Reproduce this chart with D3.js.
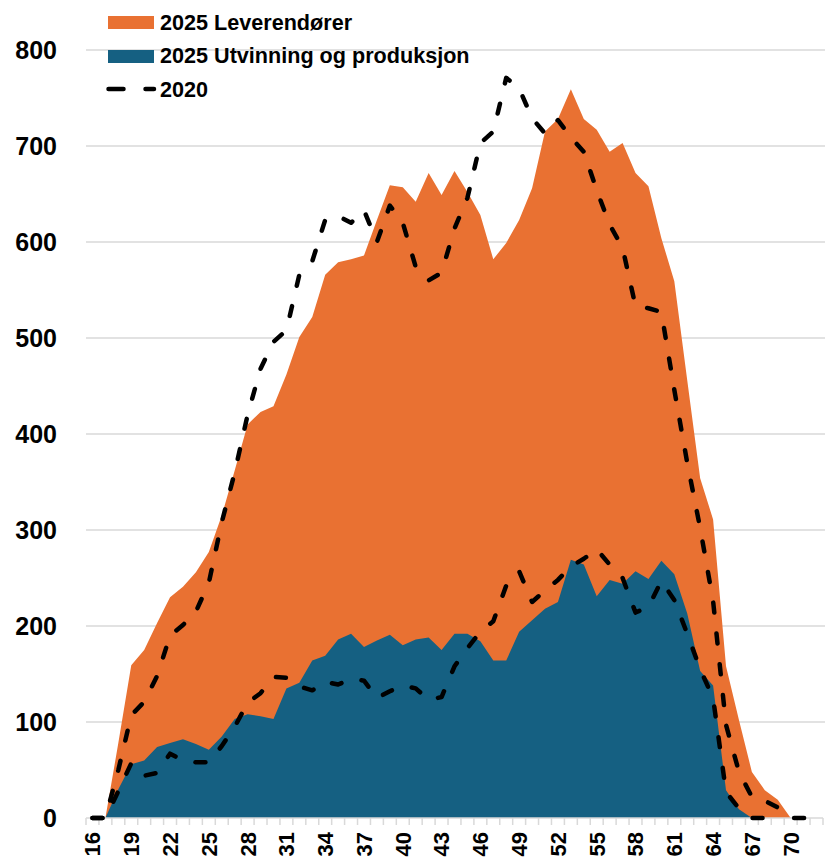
<!DOCTYPE html>
<html>
<head>
<meta charset="utf-8">
<script src="https://cdn.jsdelivr.net/npm/d3@7"></script>
<style>
  body { margin: 0; background: #fff; }
  text { font-family: "Liberation Sans", Arial, sans-serif; font-weight: bold; fill: #000; }
</style>
</head>
<body>
<div id="chart"></div>
<script>
// ages on the x axis
const ages = [16,17,18,19,20,21,22,23,24,25,26,27,28,29,30,31,32,33,34,35,36,37,38,39,40,41,42,43,
  44,45,46,47,48,49,50,51,52,53,54,55,56,57,58,59,60,61,62,63,64,65,66,67,68,69,70,71,72];
const ageLabels = [16,19,22,25,28,31,34,37,40,43,46,49,52,55,58,61,64,67,70];
const yTicks = [0,100,200,300,400,500,600,700,800];

// 2025, stacked areas
const utvinning2025 = [0,0,30,56,60,74,78,82,77,71,85,103,108,106,103,135,141,164,169,186,192,178,185,191,
  180,186,188,175,192,192,184,164,164,194,206,218,225,269,264,231,248,244,257,249,268,254,213,153,138,29,9,
  0,0,0,0,0,0];
const leverandorer2025 = [0,0,48,103,115,129,152,159,179,206,230,259,302,317,326,327,360,358,397,393,390,408,
  438,468,477,456,484,474,482,460,444,418,435,429,450,497,503,490,464,486,446,459,415,409,336,305,243,201,
  173,129,93,48,29,19,0,0,0];

// 2020, dashed lines (total and utvinning og produksjon)
const total2020 = [0,0,50,107,121,148,190,201,215,245,308,360,420,468,496,508,566,580,623,627,620,633,600,
  638,620,574,560,568,614,646,703,715,771,760,729,713,727,709,694,654,618,594,533,531,527,446,370,302,226,
  97,48,22,18,11,0,0,0];
const utvinning2020 = [0,0,28,57,44,47,67,60,58,58,75,95,120,130,147,146,137,133,142,139,145,143,125,132,
  138,135,123,126,158,177,194,205,242,257,225,237,248,262,270,280,264,250,214,220,247,227,192,155,125,27,
  10,0,0,0,null,null,null];

const width = 825, height = 861;
const plotLeft = 86, plotRight = 823, plotTop = 50, plotBottom = 818;

const svg = d3.select("#chart").append("svg")
  .attr("width", width)
  .attr("height", height);

const x = d3.scaleBand().domain(ages).range([plotLeft, plotRight]).padding(0);
const cx = a => x(a) + x.bandwidth() / 2;
const y = d3.scaleLinear().domain([0, 800]).range([plotBottom, plotTop]);

// gridlines
svg.append("g").selectAll("line")
  .data(yTicks.filter(t => t > 0))
  .join("line")
  .attr("x1", plotLeft).attr("x2", width)
  .attr("y1", d => y(d)).attr("y2", d => y(d))
  .attr("stroke", "#d9d9d9").attr("stroke-width", 1.5);

// y labels
svg.append("g").selectAll("text")
  .data(yTicks)
  .join("text")
  .attr("x", 57)
  .attr("y", d => y(d))
  .attr("dy", "0.36em")
  .attr("text-anchor", "end")
  .style("font-size", "25px")
  .text(d => d);

const rows = ages.map((a, i) => ({ age: a, utvinning: utvinning2025[i], leverandorer: leverandorer2025[i] }));
const stacked = d3.stack().keys(["utvinning", "leverandorer"])(rows);

// orange drawn down to zero so no seam shows under the blue
const areaTop = d3.area()
  .x(d => cx(d.data.age))
  .y0(y(0))
  .y1(d => y(d[1]));
const areaLayer = d3.area()
  .x(d => cx(d.data.age))
  .y0(d => y(d[0]))
  .y1(d => y(d[1]));

svg.append("path").datum(stacked[1]).attr("d", areaTop).attr("fill", "#E97132");
svg.append("path").datum(stacked[0]).attr("d", areaLayer).attr("fill", "#156082");

// x axis line + ticks at category boundaries
svg.append("line")
  .attr("x1", plotLeft).attr("x2", plotRight)
  .attr("y1", plotBottom).attr("y2", plotBottom)
  .attr("stroke", "#d9d9d9").attr("stroke-width", 1.5);

svg.append("g").selectAll("line")
  .data(ages.map(a => x(a)).concat([plotRight]))
  .join("line")
  .attr("x1", d => d).attr("x2", d => d)
  .attr("y1", plotBottom).attr("y2", plotBottom + 7)
  .attr("stroke", "#d9d9d9").attr("stroke-width", 1.5);

svg.append("g").selectAll("text")
  .data(ageLabels)
  .join("text")
  .attr("transform", d => `translate(${cx(d)},${plotBottom + 14}) rotate(-90)`)
  .attr("dy", "0.36em")
  .attr("text-anchor", "end")
  .style("font-size", "22px")
  .text(d => d);

// 2020 lines
const line = d3.line()
  .defined(d => d[1] != null)
  .x(d => cx(d[0]))
  .y(d => y(d[1]));

[total2020, utvinning2020].forEach(series => {
  svg.append("path")
    .datum(ages.map((a, i) => [a, series[i]]))
    .attr("d", line)
    .attr("fill", "none")
    .attr("stroke", "#000")
    .attr("stroke-width", 4.5)
    .attr("stroke-linecap", "round")
    .attr("stroke-linejoin", "round")
    .attr("stroke-dasharray", "10,21");
});

// legend
const legend = svg.append("g");
legend.append("rect").attr("x", 108).attr("y", 16).attr("width", 46).attr("height", 13).attr("fill", "#E97132");
legend.append("rect").attr("x", 108).attr("y", 50).attr("width", 46).attr("height", 13).attr("fill", "#156082");
legend.append("line")
  .attr("x1", 108.5).attr("x2", 154)
  .attr("y1", 89).attr("y2", 89)
  .attr("stroke", "#000").attr("stroke-width", 4.5)
  .attr("stroke-linecap", "round")
  .attr("stroke-dasharray", "15,22");

const legendItems = ["2025 Leverendører", "2025 Utvinning og produksjon", "2020"];
legend.selectAll("text")
  .data(legendItems)
  .join("text")
  .attr("x", 160)
  .attr("y", (d, i) => 22 + i * 33.5)
  .attr("dy", "0.36em")
  .style("font-size", "21.6px")
  .text(d => d);
</script>
</body>
</html>
